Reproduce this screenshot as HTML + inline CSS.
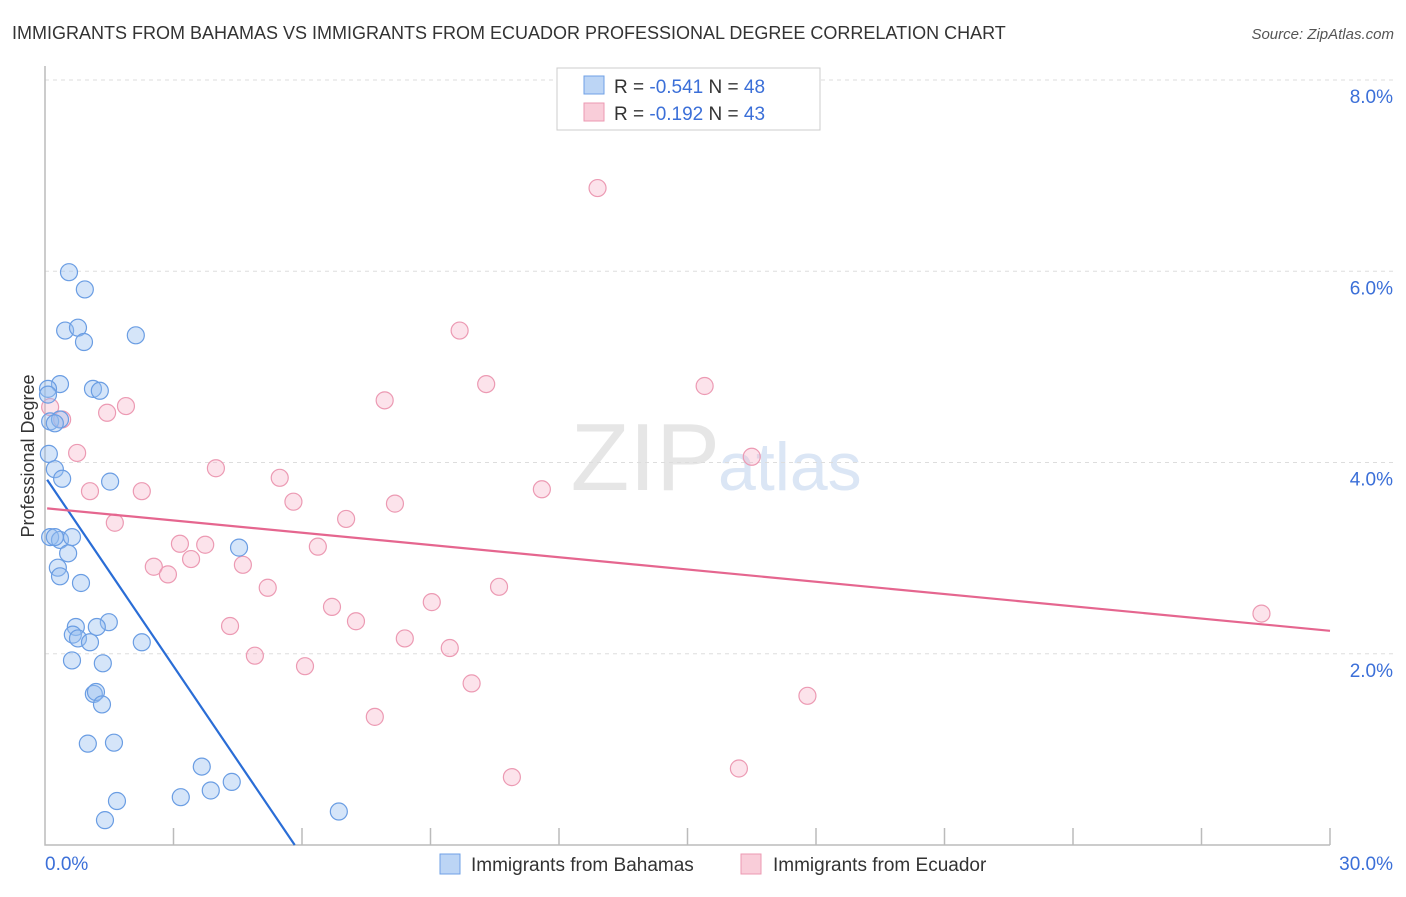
<!DOCTYPE html>
<html><head><meta charset="utf-8"><style>
body{margin:0;background:#fff;font-family:"Liberation Sans",sans-serif;}
svg text{font-family:"Liberation Sans",sans-serif;}
</style></head><body>
<svg id="chart" width="1406" height="892">
<text x="12" y="39" font-size="18" fill="#333">IMMIGRANTS FROM BAHAMAS VS IMMIGRANTS FROM ECUADOR PROFESSIONAL DEGREE CORRELATION CHART</text>
<text x="1394" y="39" font-size="15" fill="#555" font-style="italic" text-anchor="end">Source: ZipAtlas.com</text>
<text x="720" y="490" font-size="96" fill="#e6e6e6" text-anchor="end" font-family="Liberation Serif">ZIP</text>
<text x="718" y="490" font-size="68" fill="#dbe6f5">atlas</text>
<g id="grid"></g><g id="axes"></g><g id="pts"></g><g id="lines"></g>
<text transform="translate(34,456) rotate(-90)" font-size="18" fill="#333" text-anchor="middle">Professional Degree</text>
<g>
<rect x="557" y="68" width="263" height="62" fill="#fff" stroke="#ccc"/>
<rect x="584" y="76" width="20" height="18" fill="#bcd5f5" stroke="#6fa0e6"/>
<rect x="584" y="103" width="20" height="18" fill="#f9cdd9" stroke="#ec99b2"/>
<text x="614" y="93" font-size="19" fill="#333">R = <tspan fill="#3b6fd8">-0.541</tspan>   N = <tspan fill="#3b6fd8">48</tspan></text>
<text x="614" y="120" font-size="19" fill="#333">R = <tspan fill="#3b6fd8"> -0.192</tspan>   N = <tspan fill="#3b6fd8">43</tspan></text>
</g>
<g>
<rect x="440" y="854" width="20" height="20" fill="#bcd5f5" stroke="#6fa0e6"/>
<text x="471" y="871" font-size="19" fill="#333">Immigrants from Bahamas</text>
<rect x="741" y="854" width="20" height="20" fill="#f9cdd9" stroke="#ec99b2"/>
<text x="773" y="871" font-size="19" fill="#333">Immigrants from Ecuador</text>
</g>
</svg>
<script>
const yTicks=[2,4,6,8];
const xTickLabels=["0.0%","30.0%"];
const blueX=[0.56,0.93,0.47,0.77,0.91,2.12,0.35,0.07,1.12,1.28,0.07,0.12,0.35,0.23,0.09,0.23,0.40,1.52,0.12,0.35,0.63,0.54,0.30,0.84,4.53,2.26,0.72,0.65,0.77,1.05,1.49,1.21,0.63,1.35,1.14,1.19,1.33,1.00,1.61,3.66,3.17,3.87,4.36,1.68,1.40,6.86,0.23,0.35];
const blueY=[5.99,5.81,5.38,5.41,5.26,5.33,4.82,4.77,4.77,4.75,4.71,4.43,4.45,4.41,4.09,3.93,3.83,3.80,3.22,3.19,3.22,3.05,2.90,2.74,3.11,2.12,2.28,2.20,2.16,2.12,2.33,2.28,1.93,1.90,1.58,1.60,1.47,1.06,1.07,0.82,0.50,0.57,0.66,0.46,0.26,0.35,3.22,2.81];
const pinkX=[12.9,9.68,10.3,15.4,7.93,1.89,1.45,0.40,0.12,0.75,3.99,5.48,16.5,1.05,2.26,5.80,8.17,11.6,1.63,7.03,3.15,3.74,6.37,3.41,2.54,2.87,4.62,5.20,10.6,9.03,6.70,7.26,4.32,8.40,9.45,4.90,6.07,9.96,17.8,7.70,10.9,16.2,28.4];
const pinkY=[6.87,5.38,4.82,4.80,4.65,4.59,4.52,4.45,4.58,4.10,3.94,3.84,4.06,3.70,3.70,3.59,3.57,3.72,3.37,3.41,3.15,3.14,3.12,2.99,2.91,2.83,2.93,2.69,2.70,2.54,2.49,2.34,2.29,2.16,2.06,1.98,1.87,1.69,1.56,1.34,0.71,0.80,2.42];
const blueTrend=[0.05,3.82,5.83,0];
const pinkTrend=[0.05,3.52,30,2.24];
const X=v=>45+v/30*1285, Y=v=>845-v/8*765;
const NS="http://www.w3.org/2000/svg";
function mk(p,t,a){const e=document.createElementNS(NS,t);for(const k in a)e.setAttribute(k,a[k]);document.getElementById(p).appendChild(e);return e;}
yTicks.forEach(t=>{
 const g=mk("grid","line",{x1:45,x2:1394,y1:Y(t),y2:Y(t),stroke:"#ddd","stroke-dasharray":"4,4"});
 
 
 const l=mk("grid","text",{x:1393,y:Y(t)+23,"font-size":19,fill:"#3b6fd8","text-anchor":"end"});
 l.textContent=t.toFixed(1)+"%";
 
 
});
const ax=mk("axes","path",{d:"M45,66V845H1330",stroke:"#bbb",fill:"none","stroke-width":1.5});


for(let i=1;i<=10;i++){const t=mk("axes","line",{x1:X(i*3),x2:X(i*3),y1:828,y2:845,stroke:"#bbb","stroke-width":1.5});
 
 }
[[0,45,"start"],[1,1393,"end"]].forEach(([i,x,a])=>{const t=mk("axes","text",{x:x,y:870,"font-size":19,fill:"#3b6fd8","text-anchor":a});t.textContent=xTickLabels[i];
 
 });
pinkX.forEach((v,i)=>{const c=mk("pts","circle",{cx:X(v),cy:Y(pinkY[i]),r:8.5,fill:"rgba(246,176,198,0.35)",stroke:"#ec9ab3","stroke-width":1.2});
 
 });
blueX.forEach((v,i)=>{const c=mk("pts","circle",{cx:X(v),cy:Y(blueY[i]),r:8.5,fill:"rgba(150,190,240,0.4)",stroke:"#6a9de3","stroke-width":1.2});
 
 });
const b=mk("lines","line",{x1:X(blueTrend[0]),y1:Y(blueTrend[1]),x2:X(blueTrend[2]),y2:Y(blueTrend[3]),stroke:"#2a6dd6","stroke-width":2.2});


const p=mk("lines","line",{x1:X(pinkTrend[0]),y1:Y(pinkTrend[1]),x2:X(pinkTrend[2]),y2:Y(pinkTrend[3]),stroke:"#e5668f","stroke-width":2.2});


</script>
</body></html>
